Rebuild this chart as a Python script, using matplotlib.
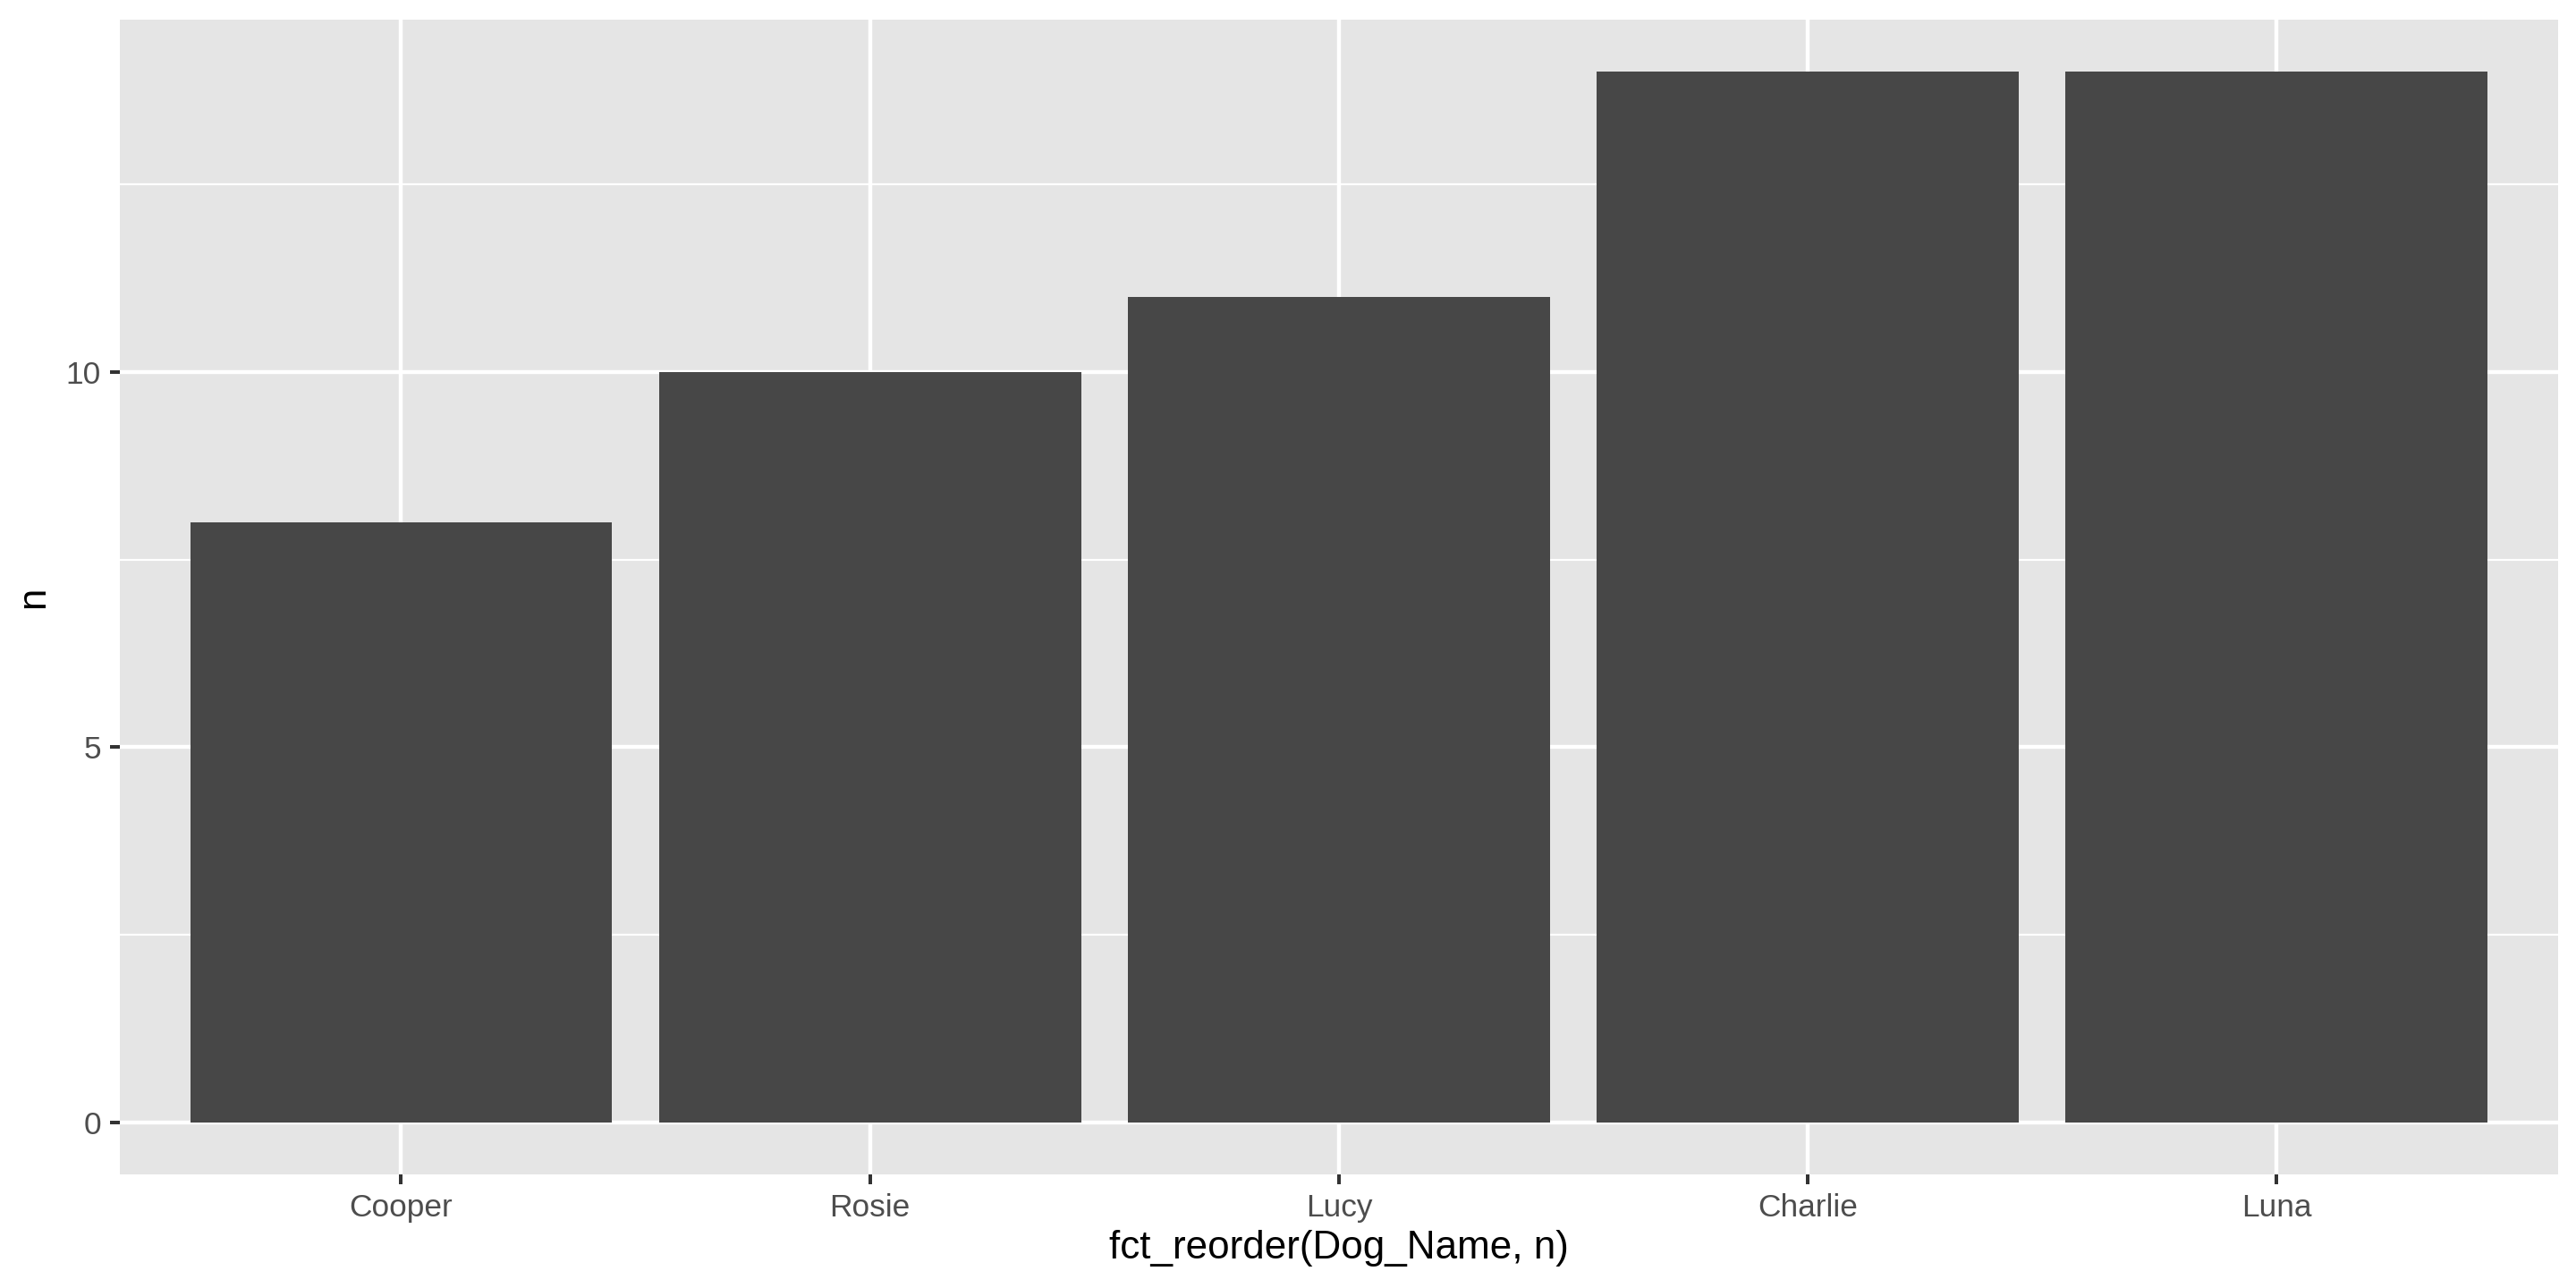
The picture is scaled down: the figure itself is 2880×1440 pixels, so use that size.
import matplotlib.pyplot as plt

plt.rcParams['font.family'] = ['Liberation Sans', 'DejaVu Sans']

# ===== DONNEES =====
dog_names = ['Cooper', 'Rosie', 'Lucy', 'Charlie', 'Luna']
counts = [8, 10, 11, 14, 14]

fig = plt.figure(figsize=(10, 5), dpi=288)
ax = fig.add_axes([0.0465, 0.088, 0.9465, 0.897])
ax.set_facecolor('#E5E5E5')

x = list(range(1, len(dog_names) + 1))
ax.bar(x, counts, width=0.9, color='#474747', zorder=3)

ax.set_xlim(0.4, len(dog_names) + 0.6)
ax.set_ylim(-0.7, 14.7)
ax.set_xticks(x)
ax.set_xticklabels(dog_names)
ax.set_yticks([0, 5, 10])
ax.set_yticks([2.5, 7.5, 12.5], minor=True)

ax.grid(True, which='major', color='white', linewidth=1.1, zorder=0)
ax.grid(True, which='minor', axis='y', color='white', linewidth=0.55, zorder=0)
ax.set_axisbelow(True)
for s in ax.spines.values():
    s.set_visible(False)

ax.tick_params(axis='both', which='major', length=2.75, width=1.0, color='#333333',
               labelsize=8.8, labelcolor='#4D4D4D', pad=2.5)
ax.tick_params(axis='both', which='minor', length=0)

ax.set_xlabel('fct_reorder(Dog_Name, n)', fontsize=11, labelpad=2)
ax.set_ylabel('n', fontsize=11, labelpad=4)

plt.savefig('out.png', dpi=288)
